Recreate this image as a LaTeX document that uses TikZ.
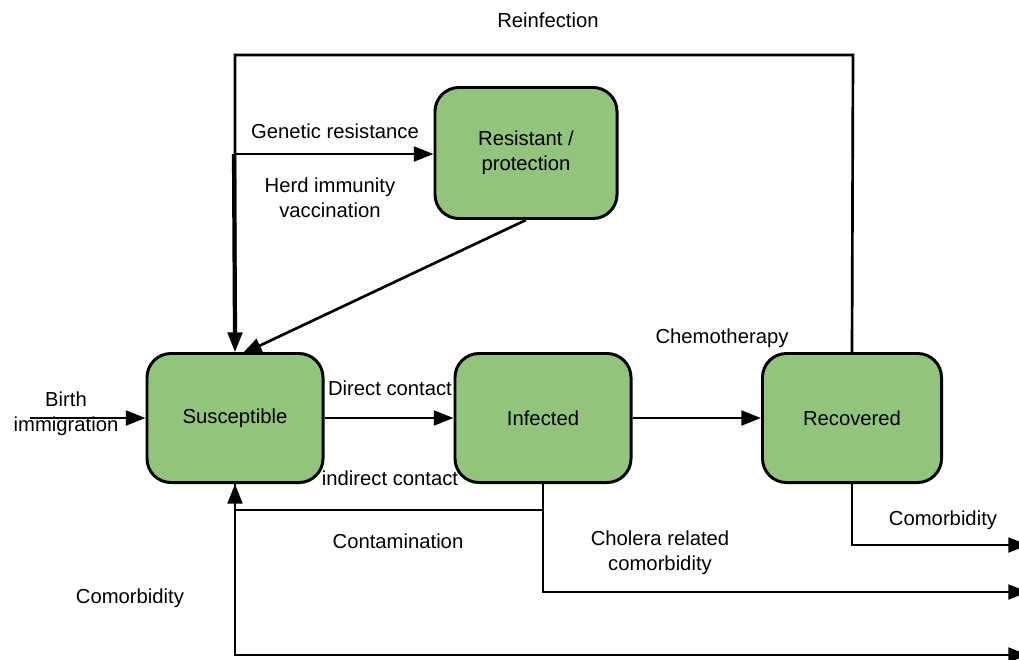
\documentclass[tikz,border=0pt]{standalone}
\usepackage{fontspec}
\setmainfont{Liberation Sans}
\usetikzlibrary{arrows.meta}
\definecolor{boxgreen}{RGB}{146,196,125}
\begin{document}
\begin{tikzpicture}[x=0.025cm,y=-0.025cm,
  compbox/.style={draw=black,line width=2.1pt,fill=boxgreen,rounded corners=0.6cm,
    align=center,inner sep=0pt,font=\fontsize{14.4}{17.5}\selectfont},
  lbl/.style={align=center,inner sep=0pt,font=\fontsize{14.4}{17.5}\selectfont},
  conn/.style={line width=1.9pt},
  arr/.style={conn,-{Triangle[length=14pt,width=10.5pt]}}]
\useasboundingbox (0,0) rectangle (1019,659);
% compartments
\node[compbox,minimum width=4.4cm,minimum height=3.225cm] (sus) at (235,418) {Susceptible};
\node[compbox,minimum width=4.4cm,minimum height=3.225cm] (inf) at (543,418) {Infected};
\node[compbox,minimum width=4.475cm,minimum height=3.225cm] (rec) at (852,418) {Recovered};
\node[compbox,minimum width=4.55cm,minimum height=3.275cm] (res) at (526,153) {Resistant /\\protection};
% helper coordinates
\coordinate (top) at (853,55);
\coordinate (g) at (234,154);
\coordinate (birth) at (30,418);
\coordinate (cont) at (543,510);
\coordinate (chol) at (543,592);
\coordinate (e1) at (1028,545);
\coordinate (e2) at (1028,592);
\coordinate (e3) at (1028,655);
\coordinate (restip) at (242,354);
% connectors
\draw[arr] (rec.north) -- (top) -| (sus.north);
\draw[arr] (g) -- (g -| res.west);
\draw[line width=3pt] (g) -- ([yshift=0.5cm]sus.north);
\draw[arr] (res.south) -- (restip);
\draw[arr] (birth) -- (sus.west);
\draw[arr] (sus.east) -- (inf.west);
\draw[arr] (inf.east) -- (rec.west);
\draw[arr] (inf.south) -- (cont) -| (sus.south);
\draw[arr] (cont) -- (chol) -- (e2);
\draw[arr] (rec.south) |- (e1);
\draw[arr] (sus.south) |- (e3);
% labels
\node[lbl] (l1) at (548,20) {Reinfection};
\node[lbl] (l2) at (335,131) {Genetic resistance};
\node[lbl] (l3) at (330,198) {Herd immunity\\vaccination};
\node[lbl] (l4) at (390,388) {Direct contact};
\node[lbl] (l5) at (390,478) {indirect contact};
\node[lbl] (l6) at (722,338) {Chemotherapy};
\node[lbl] (l7) at (66,414) {Birth\\immigration};
\node[lbl] (l8) at (398,541) {Contamination};
\node[lbl] (l9) at (660,553) {Cholera related\\comorbidity};
\node[lbl] (l10) at (943,520) {Comorbidity};
\node[lbl] (l11) at (130,598) {Comorbidity};
\end{tikzpicture}
\end{document}
